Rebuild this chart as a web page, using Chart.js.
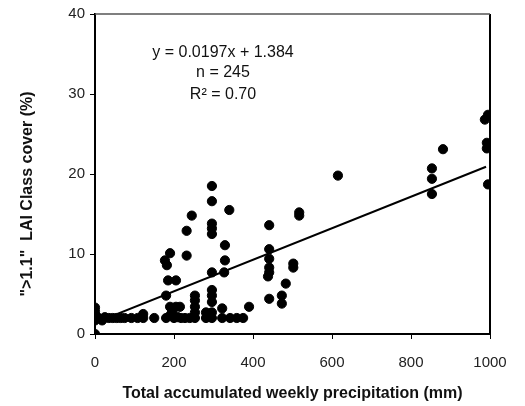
<!DOCTYPE html>
<html>
<head>
<meta charset="utf-8">
<script src="https://cdn.jsdelivr.net/npm/chart.js@4.4.1/dist/chart.umd.min.js"></script>
<style>
  html, body { margin: 0; padding: 0; background: #fff; }
  #wrap { width: 525px; height: 406px; }
</style>
</head>
<body>
<div id="wrap"><canvas id="lai"></canvas></div>
<script>
// weekly precipitation (mm) vs ">1.1" LAI class cover (%)
var precipX = [
  0, 0, 0, 0, 0, 0,
  10, 18, 25, 35, 45, 55, 65, 75,
  92, 108, 122, 122, 150,
  177, 182, 190, 180, 185, 205, 190, 205, 215, 180, 190, 200, 210, 218, 195,
  232, 245, 232, 228, 240,
  253, 253, 253, 253, 253,
  281, 281,
  296, 296, 296, 296, 296, 296, 296, 296, 296, 296, 296, 290,
  340, 329, 329, 327,
  322, 322, 342, 359, 375, 390,
  441, 441, 441, 441, 441, 438, 441,
  473, 473, 483,
  502, 502,
  517, 517,
  615,
  853, 853, 853,
  881,
  987, 995, 992, 992, 995
];
var coverY = [
  0, 3.3, 2.8, 2.4, 2.0, 1.7,
  2.0, 1.7, 2.1, 2.0, 2.0, 2.0, 2.0, 2.0,
  2.0, 2.0, 2.5, 2.0, 2.0,
  9.2, 8.6, 10.1, 4.8, 6.7, 6.7, 3.4, 3.4, 3.4, 2.0, 2.3, 2.0, 2.1, 2.0, 2.8,
  12.9, 14.8, 9.8, 2.0, 2.0,
  4.8, 4.2, 3.4, 2.7, 2.0,
  2.7, 2.0,
  18.5, 16.6, 13.8, 13.2, 12.5, 7.7, 5.5, 4.8, 4.0, 2.7, 2.0, 2.3,
  15.5, 11.1, 9.2, 7.7,
  3.2, 2.0, 2.0, 2.0, 2.0, 3.4,
  13.6, 10.6, 9.4, 8.3, 7.7, 7.2, 4.4,
  4.8, 3.8, 6.3,
  8.8, 8.3,
  15.2, 14.8,
  19.8,
  20.7, 19.4, 17.5,
  23.1,
  26.8, 27.4, 23.9, 23.2, 18.7
];
// regression line end points, y = 0.0197x + 1.384
var fitX = [0, 990];
var fitY = [1.4, 20.9];

var statLines = ['y = 0.0197x + 1.384', 'n = 245', 'R\u00B2 = 0.70'];
var yTitle = '">1.1"  LAI Class cover (%)';

var points = precipX.map(function (x, i) { return { x: x, y: coverY[i] }; });
var fit = fitX.map(function (x, i) { return { x: x, y: fitY[i] }; });

var boxAndText = {
  id: 'boxAndText',
  afterDraw: function (chart) {
    var c = chart.ctx, a = chart.chartArea;
    c.save();
    // right side of the box
    c.strokeStyle = '#000';
    c.lineWidth = 2;
    c.beginPath();
    c.moveTo(a.right, a.top);
    c.lineTo(a.right, a.bottom);
    c.stroke();
    // top of the box is a lighter line
    c.strokeStyle = '#555';
    c.lineWidth = 1.5;
    c.beginPath();
    c.moveTo(a.left, a.top);
    c.lineTo(a.right, a.top);
    c.stroke();

    c.fillStyle = '#111';
    c.font = '16px "Liberation Sans", Arial, sans-serif';
    c.textAlign = 'center';
    c.textBaseline = 'middle';
    c.fillText(statLines[0], 223, 53);
    c.fillText(statLines[1], 223, 73);
    c.fillText(statLines[2], 223, 95);
    // y axis title
    c.translate(28, 194);
    c.rotate(-Math.PI / 2);
    c.font = 'bold 16px "Liberation Sans", Arial, sans-serif';
    c.fillText(yTitle, 0, 0);
    c.restore();
  }
};

new Chart(document.getElementById('lai'), {
  type: 'scatter',
  data: {
    datasets: [{
      label: 'Cover',
      data: points,
      backgroundColor: '#000',
      borderColor: '#000',
      pointRadius: 4.6,
      pointHoverRadius: 4.6
    }, {
      type: 'line',
      label: 'Fit',
      data: fit,
      borderColor: '#000',
      borderWidth: 2,
      pointRadius: 0,
      fill: false
    }]
  },
  options: {
    responsive: true,
    maintainAspectRatio: false,
    animation: false,
    layout: { padding: { top: 12, right: 35, left: 0, bottom: 0 } },
    plugins: { legend: { display: false }, tooltip: { enabled: false } },
    scales: {
      x: {
        type: 'linear',
        min: 0,
        max: 1000,
        afterFit: function (s) { s.height = 72; },
        grid: { drawOnChartArea: false, color: '#000', tickLength: 5, lineWidth: 1 },
        border: { color: '#000', width: 2 },
        ticks: {
          stepSize: 200,
          padding: 15,
          color: '#222',
          callback: function (v) { return String(v); },
          font: { family: '"Liberation Sans", Arial, sans-serif', size: 15 }
        },
        title: {
          display: true,
          text: 'Total accumulated weekly precipitation (mm)',
          color: '#111',
          padding: { top: 0, bottom: 3 },
          font: { family: '"Liberation Sans", Arial, sans-serif', size: 16, weight: 'bold' }
        }
      },
      y: {
        min: 0,
        max: 40,
        afterFit: function (s) { s.width = 95; },
        grid: { drawOnChartArea: false, color: '#000', tickLength: 5, lineWidth: 1 },
        border: { color: '#000', width: 2 },
        ticks: {
          stepSize: 10,
          padding: 5,
          color: '#222',
          font: { family: '"Liberation Sans", Arial, sans-serif', size: 15 }
        }
      }
    }
  },
  plugins: [boxAndText]
});
</script>
</body>
</html>
